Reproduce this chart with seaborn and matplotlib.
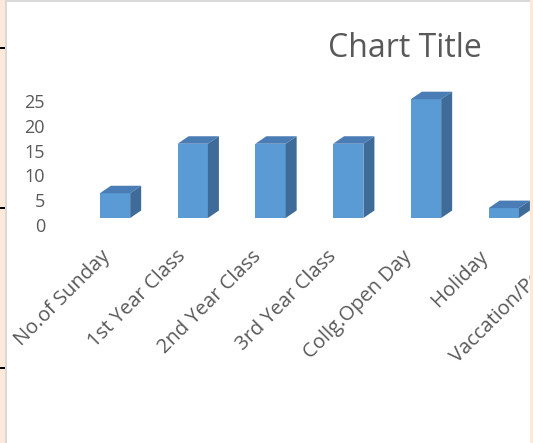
import matplotlib
matplotlib.use("Agg")
import matplotlib.pyplot as plt
import matplotlib.transforms as mtransforms
from matplotlib.patches import Rectangle, Polygon
import pandas as pd
import seaborn as sns

# Data (the last category is cut off at the right edge,
# its bar lies outside the visible area)
categories = ["No.of Sunday", "1st Year Class", "2nd Year Class", "3rd Year Class",
              "Collg.Open Day", "Holiday", "Vaccation/Pooja"]
bar_categories = categories[:6]
days = [5, 15, 15, 15, 24, 2]
y_ticks = [0, 5, 10, 15, 20, 25]

FRONT = "#5B9BD5"
TOP = "#4A7DB5"
SIDE = "#3E6B98"
TEXT = "#595959"
PINK = "#FDE9D9"
BORDER = "#D9D9D9"

W, H, DPI = 533, 443, 100


def px_rect(fig, x, y_top, w, h, color, z):
    """Rectangle given in pixels from the top-left corner of the figure."""
    fig.add_artist(Rectangle((x / W, (H - y_top - h) / H), w / W, h / H,
                             transform=fig.transFigure, facecolor=color,
                             edgecolor="none", zorder=z))


sns.set_style("white")
plt.rcParams['font.family'] = ['Open Sans', 'DejaVu Sans']

fig = plt.figure(figsize=(W / DPI, H / DPI), dpi=DPI, facecolor=PINK)

# sheet background: grey border, white chart area, pink strip on the right
px_rect(fig, 5, 0, 525, H, BORDER, -3)
px_rect(fig, 7, 2, 523, H - 2, "white", -2)
px_rect(fig, 530, 0, 3, H, PINK, 10)
for yy in [47, 207, 367]:
    px_rect(fig, 0, yy, 5, 2, "black", 10)

# axes placed so that category i sits at x = 115 + 77.75 * i px, value 0 at y = 218 px
px_per_cat = 77.75
px_per_unit = 4.95
left_px, right_px = 50, 600
y_max = 27
ax = fig.add_axes([left_px / W, (H - 218) / H, (right_px - left_px) / W,
                   y_max * px_per_unit / H])
ax.set_facecolor("none")

df = pd.DataFrame({"Category": bar_categories, "Days": days})
sns.barplot(data=df, x="Category", y="Days", order=categories, color=FRONT,
            saturation=1, width=0.39, linewidth=0, errorbar=None, ax=ax)

ax.set_xlim((left_px - 115) / px_per_cat, (right_px - 115) / px_per_cat)
ax.set_ylim(0, y_max)
ax.set_xlabel("")
ax.set_ylabel("")
sns.despine(ax=ax, left=True, bottom=True)
ax.grid(False)

ax.set_yticks(y_ticks)
ax.set_yticklabels([str(t) for t in y_ticks])
ax.tick_params(axis="y", length=0, pad=3.6, labelsize=13, labelcolor=TEXT)
ax.set_xticks(range(len(categories)))
ax.set_xticklabels(categories, rotation=45, ha="right", va="top",
                   rotation_mode="anchor")
ax.tick_params(axis="x", length=0, pad=20.5, labelsize=14.5, labelcolor=TEXT)

# shift labels like the perspective floor does
y_shift = mtransforms.ScaledTranslation(0, -7 / DPI, fig.dpi_scale_trans)
for lbl in ax.get_yticklabels():
    lbl.set_transform(lbl.get_transform() + y_shift)
for i, lbl in enumerate(ax.get_xticklabels()):
    shift = mtransforms.ScaledTranslation((-15 - 2.2 * i) / DPI, 0, fig.dpi_scale_trans)
    lbl.set_transform(lbl.get_transform() + shift)

# 3D look: top and side faces from each bar
inv = ax.transData.inverted()
origin = ax.transData.transform((0, 0))
dx, dy = inv.transform(origin + [11, 7.5]) - inv.transform(origin)
for p in list(ax.patches):
    x0 = p.get_x()
    x1 = x0 + p.get_width()
    h = p.get_height()
    ax.add_patch(Polygon([(x0, h), (x1, h), (x1 + dx, h + dy), (x0 + dx, h + dy)],
                         closed=True, facecolor=TOP, edgecolor="none", clip_on=False))
    ax.add_patch(Polygon([(x1, 0), (x1 + dx, dy), (x1 + dx, h + dy), (x1, h)],
                         closed=True, facecolor=SIDE, edgecolor="none", clip_on=False))

fig.text(405 / W, (H - 57) / H, "Chart Title", ha="center", va="baseline",
         fontsize=23, color=TEXT)

fig.savefig("out.png", dpi=DPI, facecolor=PINK)
